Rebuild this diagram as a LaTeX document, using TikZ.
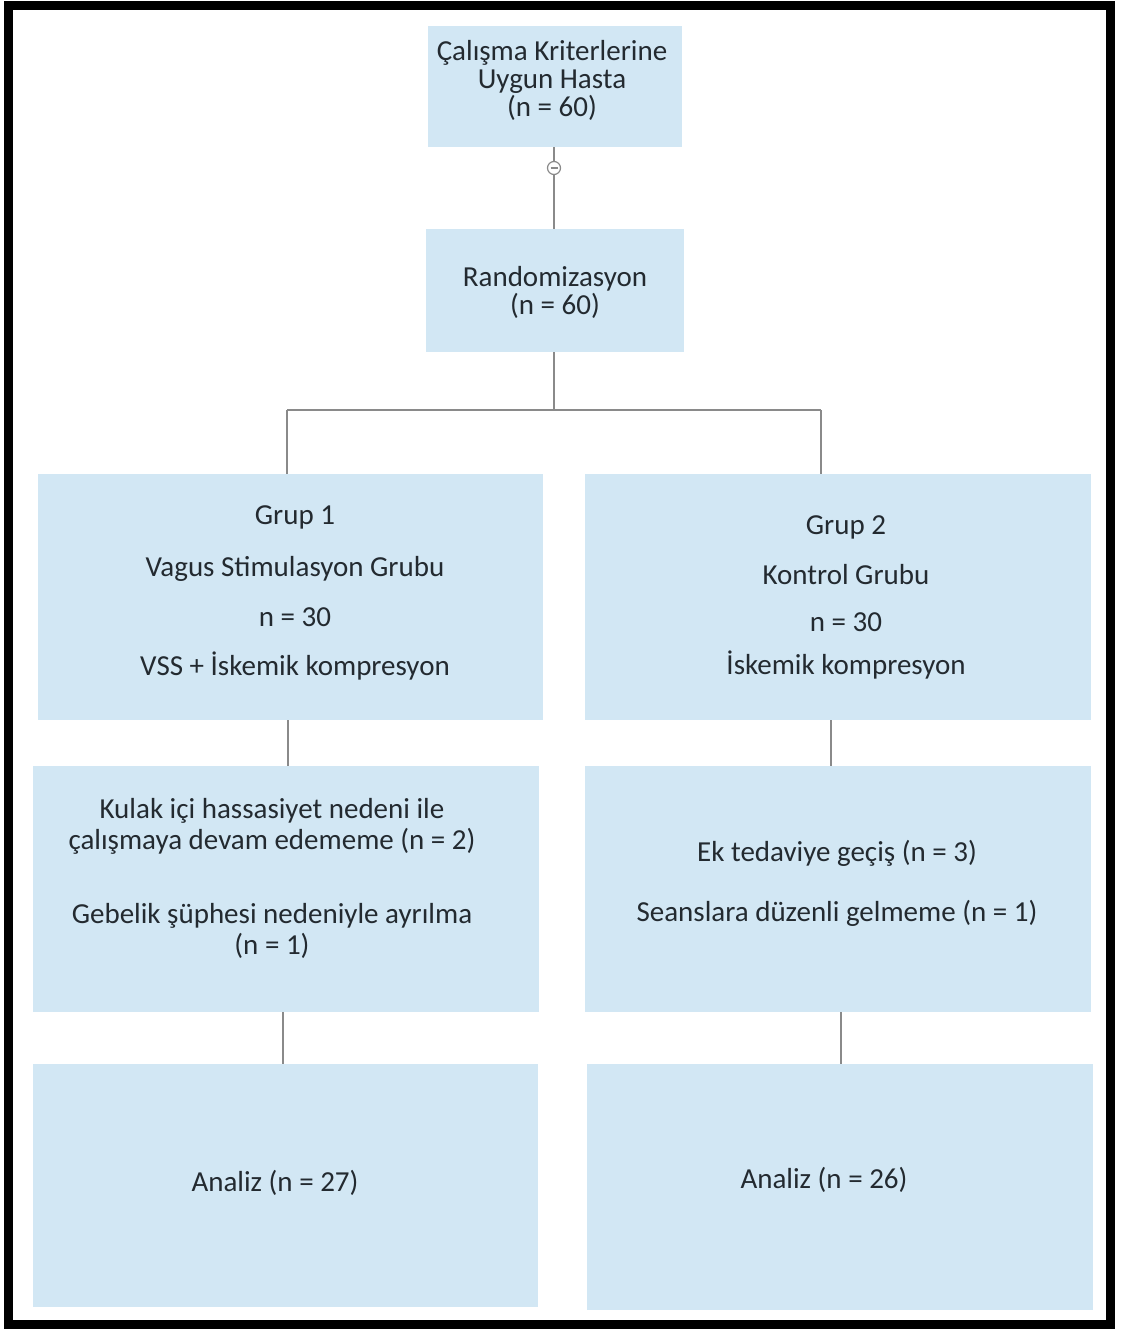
\documentclass[tikz,border=0pt]{standalone}
\usepackage{fontspec}
\setmainfont{Carlito}
\usetikzlibrary{positioning}

\definecolor{boxblue}{HTML}{D2E7F4}
\definecolor{inkgray}{HTML}{232A30}
\definecolor{linegray}{HTML}{8A8A8A}

\tikzset{
  flowbox/.style={rectangle,fill=boxblue,inner sep=0pt},
  flowtext/.style={inner sep=0pt,align=center,text=inkgray,
    font=\fontsize{29}{31}\selectfont},
  link/.style={draw=linegray,line width=1.6pt}
}

\begin{document}
\begin{tikzpicture}[x=1pt,y=-1pt]
	\useasboundingbox (0,0) rectangle (1122,1329);
	\draw[line width=9pt] (8.5,5.5) rectangle (1110,1324);

	% boxes
	\begin{scope}[every node/.style={flowbox}]
		\node [minimum width=254pt,minimum height=121pt] (hasta) at (555,86.5) {};
		\node [minimum width=258pt,minimum height=123pt] (rando) at (555,290.5) {};
		\node [minimum width=505pt,minimum height=246pt] (grupbir) at (290.5,597) {};
		\node [minimum width=506pt,minimum height=246pt] (grupiki) at (838,597) {};
		\node [minimum width=506pt,minimum height=246pt] (ayrilbir) at (286,889) {};
		\node [minimum width=506pt,minimum height=246pt] (ayriliki) at (838,889) {};
		\node [minimum width=505pt,minimum height=243pt] (analizbir) at (285.5,1185.5) {};
		\node [minimum width=506pt,minimum height=246pt] (analiziki) at (840,1187) {};
	\end{scope}

	% texts
	\begin{scope}[every node/.style={flowtext}]
		\node [font=\fontsize{29}{28}\selectfont] (hasta-yazi) at (552,80)
		      {Çalışma Kriterlerine\\Uygun Hasta\\(n = 60)};
		\node [font=\fontsize{29}{28}\selectfont] (rando-yazi) at (555,292)
		      {Randomizasyon\\(n = 60)};
		\node (grupbir-yazi) at (295,593)
		      {Grup 1\\[21pt]Vagus Stimulasyon Grubu\\[19pt]n = 30\\[18pt]VSS + İskemik kompresyon};
		\node (grupiki-yazi) at (846,597)
		      {Grup 2\\[19pt]Kontrol Grubu\\[16pt]n = 30\\[12pt]İskemik kompresyon};
		\node (ayrilbir-yazi) at (272,878)
		      {Kulak içi hassasiyet nedeni ile\\çalışmaya devam edememe (n = 2)\\[43pt]Gebelik şüphesi nedeniyle ayrılma\\(n = 1)};
		\node (ayriliki-yazi) at (837,883)
		      {Ek tedaviye geçiş (n = 3)\\[29pt]Seanslara düzenli gelmeme (n = 1)};
		\node (analizbir-yazi) at (275,1183) {Analiz (n = 27)};
		\node (analiziki-yazi) at (824,1180) {Analiz (n = 26)};
	\end{scope}

	% collapse knob between the first two boxes
	\node [circle,draw=linegray,line width=1.2pt,fill=white,minimum size=13pt,inner sep=0pt]
	      (knob) at (554,168) {};
	\draw [linegray,line width=1.2pt] ([xshift=-3.5pt]knob.center) -- ([xshift=3.5pt]knob.center);

	\coordinate (split) at (554,410);
	\coordinate (solkol) at (287,410);
	\coordinate (sagkol) at (821,410);

	\begin{scope}[every path/.style={link}]
		\path (hasta.south -| knob) edge (knob);
		\path (knob) edge (knob |- rando.north);
		\path (split |- rando.south) edge (split);
		\path (solkol) edge (sagkol);
		\path (solkol) edge (solkol |- grupbir.north);
		\path (sagkol) edge (sagkol |- grupiki.north);
		\path ([xshift=-2.5pt]grupbir.south) edge ([xshift=-2.5pt]grupbir.south |- ayrilbir.north);
		\path ([xshift=-7pt]grupiki.south) edge ([xshift=-7pt]grupiki.south |- ayriliki.north);
		\path ([xshift=-3pt]ayrilbir.south) edge ([xshift=-3pt]ayrilbir.south |- analizbir.north);
		\path ([xshift=3pt]ayriliki.south) edge ([xshift=3pt]ayriliki.south |- analiziki.north);
	\end{scope}
\end{tikzpicture}
\end{document}
